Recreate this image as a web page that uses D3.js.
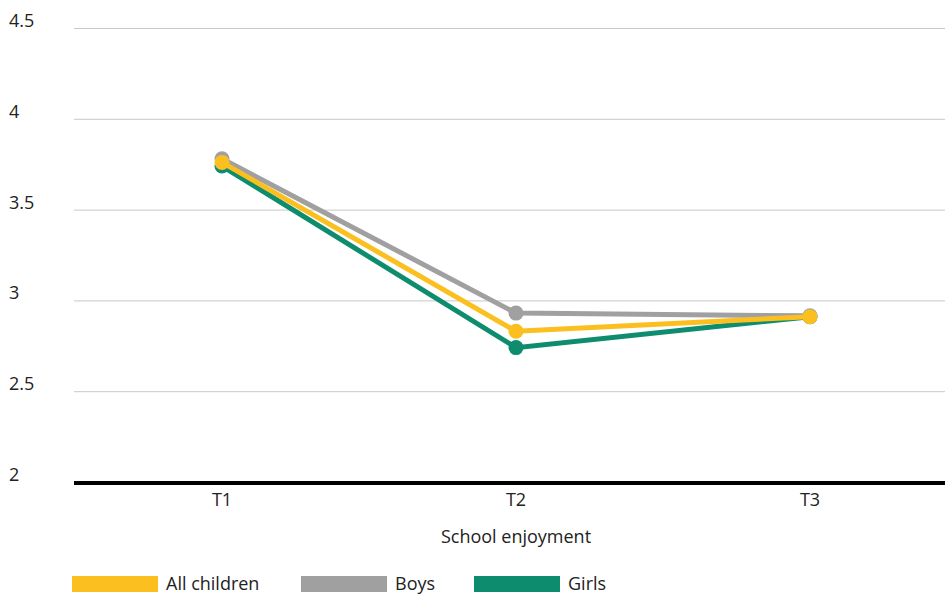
<!DOCTYPE html>
<html><head><meta charset="utf-8">
<script src="https://cdn.jsdelivr.net/npm/d3@7"></script>
<style>body{margin:0;background:#fff;}svg{display:block;font-family:"Open Sans",sans-serif;}</style>
</head><body><svg id="c" width="945" height="597"></svg>
<script>
const categories = ["T1","T2","T3"];
const yTicks = [2,2.5,3,3.5,4,4.5];
const allChildren = [3.76,2.83,2.91];
const boys = [3.78,2.93,2.915];
const girls = [3.74,2.74,2.91];
const seriesNames = ["All children","Boys","Girls"];
const colors = ["#FBBF1F","#A0A0A0","#0E8C6E"];
const axisTitle = "School enjoyment";

const FS = 18;
const svg = d3.select("#c");
const x = d3.scaleBand().domain(categories).range([75,957]);
const y = d3.scaleLinear().domain([2,4.5]).range([482,28]);

// gridlines
svg.append("g").selectAll("line").data(yTicks.filter(d=>d>2)).join("line")
  .attr("x1",74).attr("x2",945).attr("y1",d=>y(d)+0.5).attr("y2",d=>y(d)+0.5)
  .attr("stroke","#c8c8c8").attr("stroke-width",1);
// y labels
svg.append("g").selectAll("text").data(yTicks).join("text")
  .attr("x",9).attr("y",d=>y(d)-1).text(d=>d)
  .attr("font-size",FS).attr("fill","#222");
// x axis
const xa = svg.append("g").attr("transform","translate(0,482)")
  .call(d3.axisBottom(x).tickSize(0).tickPadding(11));
xa.select(".domain").remove();
xa.selectAll("text").attr("font-size",FS).attr("fill","#222").attr("font-family","Open Sans");
svg.append("line").attr("x1",74).attr("x2",957).attr("y1",483).attr("y2",483)
  .attr("stroke","#000").attr("stroke-width",4);
svg.append("text").attr("x",x("T2")+x.bandwidth()/2).attr("y",543).attr("text-anchor","middle")
  .attr("font-size",FS).attr("fill","#222").text(axisTitle);

const data = [{n:"Girls",v:girls,c:colors[2]},{n:"Boys",v:boys,c:colors[1]},{n:"All children",v:allChildren,c:colors[0]}];
const cx = c=>x(c)+x.bandwidth()/2;
const line = d3.line().x((d,i)=>cx(categories[i])).y(d=>y(d));
data.forEach(s=>{
  const g = svg.append("g");
  g.append("path").attr("d",line(s.v)).attr("fill","none").attr("stroke",s.c).attr("stroke-width",5);
  g.selectAll("circle").data(s.v).join("circle").attr("cx",(d,i)=>cx(categories[i])).attr("cy",d=>y(d))
    .attr("r",7.5).attr("fill",s.c);
});

// legend
const legX = [72,301,474];
const lg = svg.append("g");
seriesNames.forEach((n,i)=>{
  lg.append("rect").attr("x",legX[i]).attr("y",576).attr("width",86).attr("height",16).attr("fill",colors[i]);
  lg.append("text").attr("x",legX[i]+94).attr("y",590).attr("font-size",FS).attr("fill","#222").text(n);
});
</script></body></html>
